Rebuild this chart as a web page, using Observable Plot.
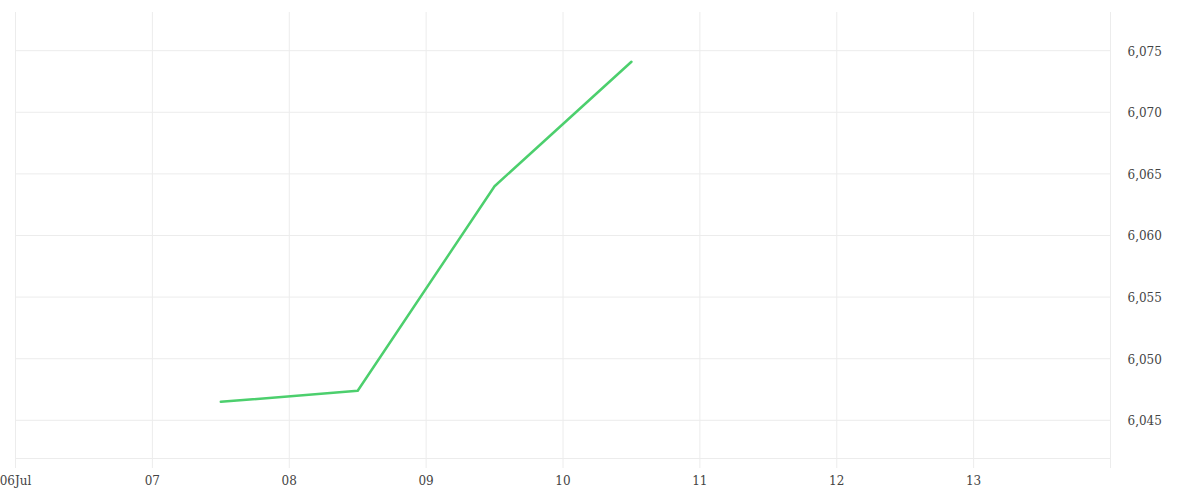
<!DOCTYPE html>
<html>
<head>
<meta charset="utf-8">
<script src="https://cdn.jsdelivr.net/npm/d3@7"></script>
<script src="https://cdn.jsdelivr.net/npm/@observablehq/plot@0.6"></script>
<style>
  body { margin: 0; background: #fff; }
  #chart svg { display: block; }
</style>
</head>
<body>
<div id="chart"></div>
<script>
const dates = ["2023-07-07T12:00Z", "2023-07-08T12:00Z", "2023-07-09T12:00Z", "2023-07-10T12:00Z"];
const values = [6046.5, 6047.4, 6064.0, 6074.1];
const xTickDays = ["2023-07-06", "2023-07-07", "2023-07-08", "2023-07-09", "2023-07-10", "2023-07-11", "2023-07-12", "2023-07-13"];
const xGridDays = ["2023-07-06", "2023-07-07", "2023-07-08", "2023-07-09", "2023-07-10", "2023-07-11", "2023-07-12", "2023-07-13", "2023-07-14"];
const yTicks = [6045, 6050, 6055, 6060, 6065, 6070, 6075];
const xDomain = ["2023-07-06", "2023-07-14"];
const yDomain = [6041.9, 6078.1];

const data = dates.map((d, i) => ({date: new Date(d), value: values[i]}));
const tickDates = xTickDays.map(d => new Date(d + "T00:00Z"));
const gridDates = xGridDays.map(d => new Date(d + "T00:00Z"));

const fmtDay = d3.utcFormat("%d");
const fmtFirst = d3.utcFormat("%d%b");

const chart = Plot.plot({
  width: 1200,
  height: 500,
  marginLeft: 15,
  marginRight: 90,
  marginTop: 12,
  marginBottom: 42,
  style: {fontFamily: "'DejaVu Serif', serif", fontSize: "12px", color: "#444", background: "#fff"},
  x: {type: "utc", domain: xDomain.map(d => new Date(d + "T00:00Z"))},
  y: {domain: yDomain},
  marks: [
    Plot.ruleY(yTicks, {stroke: "#ececec", strokeWidth: 1}),
    Plot.ruleY([yDomain[0]], {stroke: "#ececec", strokeWidth: 1}),
    Plot.ruleX(gridDates, {stroke: "#ececec", strokeWidth: 1, insetBottom: -10}),
    Plot.axisX(tickDates, {
      tickSize: 0,
      tickPadding: 18,
      tickFormat: (d, i) => i === 0 ? fmtFirst(d) : fmtDay(d),
      label: null,
      fill: "#444"
    }),
    Plot.axisY(yTicks, {
      anchor: "right",
      tickSize: 0,
      tickPadding: 17,
      textAnchor: "start",
      dy: 1,
      tickFormat: d3.format(","),
      label: null,
      fill: "#444"
    }),
    Plot.line(data, {x: "date", y: "value", stroke: "#4ccf6d", strokeWidth: 2.5, curve: "linear"})
  ]
});
document.getElementById("chart").appendChild(chart);
</script>
</body>
</html>
